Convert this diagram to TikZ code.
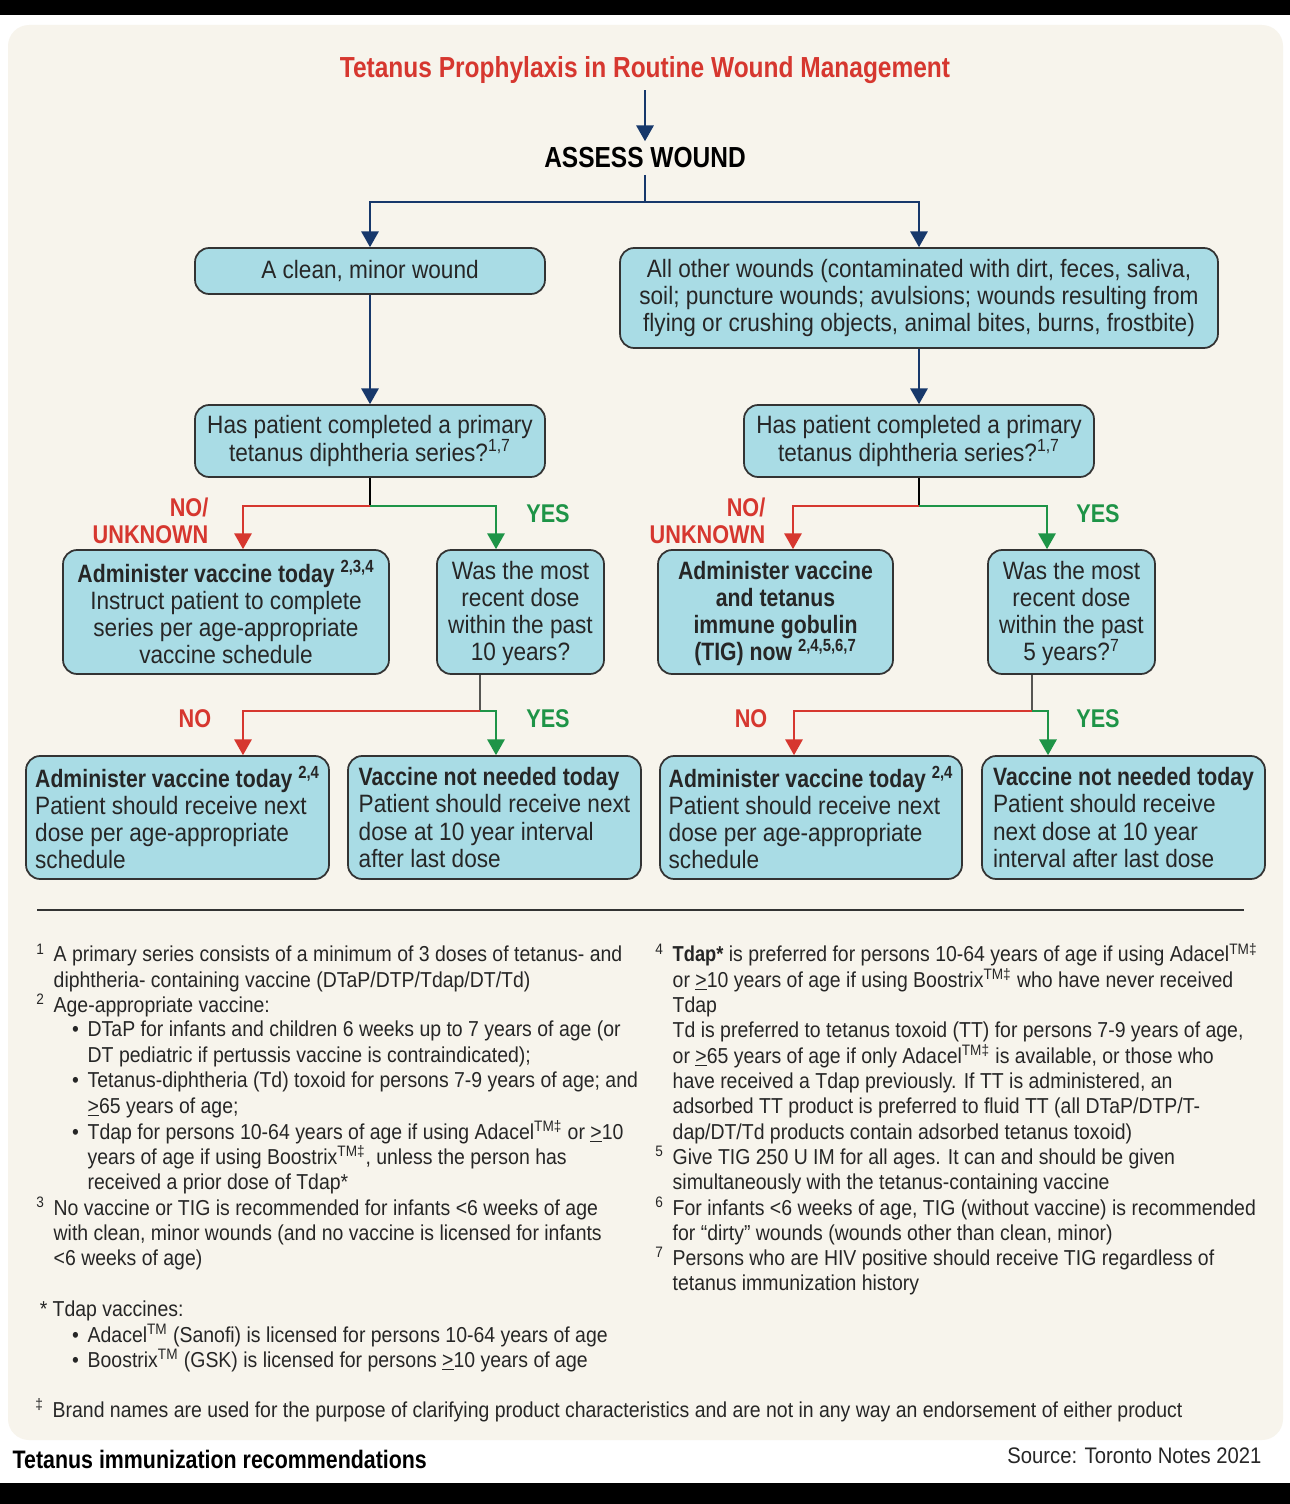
\documentclass[tikz,border=0pt]{standalone}
\usepackage{fontspec}
\setmainfont{Liberation Sans}[UprightFeatures={FakeStretch=0.9},BoldFeatures={FakeStretch=0.845}]
\usetikzlibrary{arrows,arrows.meta}

\definecolor{cream}{HTML}{F7F4EC}
\definecolor{boxblue}{HTML}{A9DCE5}
\definecolor{boxline}{HTML}{333333}
\definecolor{linknavy}{HTML}{17386B}
\definecolor{nored}{HTML}{D6372F}
\definecolor{yesgreen}{HTML}{1E9447}
\definecolor{inkgray}{HTML}{262626}

\newcommand\boxfont{\fontsize{14.3}{15.4}\selectfont}
\newcommand\notefont{\fontsize{12.3}{14.4}\selectfont}
\newcommand\labfont{\fontsize{14.6}{15}\selectfont\bfseries}
\newcommand\fnm[1]{\textsuperscript{#1}}
\newcommand\uge{\underline{>}}
\newcommand\topfix{\vphantom{\fnm{1}}}

\begin{document}
\begin{tikzpicture}[x=0.02cm,y=-0.02cm,->,>={Triangle[width=10pt,length=9pt]},line width=0.8pt,
  box node/.style={rectangle,rounded corners=8pt,draw=boxline,line width=1pt,fill=boxblue,
    inner sep=0pt,align=center,font=\boxfont,text=inkgray},
  end node/.style={box node,align=left}]

  \tikzstyle{notes} = [anchor=base west,align=left,inner sep=0pt,font=\notefont,text=inkgray]
  \tikzstyle{nolab} = [font=\labfont,text=nored,align=right,inner sep=0pt]
  \tikzstyle{yeslab} = [font=\labfont,text=yesgreen,inner sep=0pt]

  % page
  \useasboundingbox (0,0) rectangle (1290,1504);
  \fill[black] (0,0) rectangle (1290,15);
  \fill[white] (0,15) rectangle (1290,1483);
  \fill[black] (0,1483) rectangle (1290,1504);
  \fill[cream,rounded corners=12pt] (8,25) rectangle (1283,1440);

  % flowchart
  \node[font=\fontsize{16.5}{18}\selectfont\bfseries,text=nored] (title) at (645,70)
    {Tetanus Prophylaxis in Routine Wound Management};
  \node[font=\fontsize{16.5}{18}\selectfont\bfseries,text=black] (assess) at (645,158) {ASSESS WOUND};
  \coordinate (split) at (645,202);

  \node[box node,minimum width=7cm,minimum height=0.92cm] (clean) at (370,271) {A clean, minor wound};
  \node[box node,minimum width=11.96cm,minimum height=2cm] (dirty) at (919,298)
    {All other wounds (contaminated with dirt, feces, saliva,\\
     soil; puncture wounds; avulsions; wounds resulting from\\
     flying or crushing objects, animal bites, burns, frostbite)};

  \node[box node,minimum width=7cm,minimum height=1.44cm] (q1) at (370,441)
    {Has patient completed a primary\\tetanus diphtheria series?\fnm{1,7}};
  \node[box node,minimum width=7cm,minimum height=1.44cm] (q2) at (919,441)
    {Has patient completed a primary\\tetanus diphtheria series?\fnm{1,7}};
  \coordinate (j1) at (370,506);
  \coordinate (j2) at (919,506);

  \node[box node,minimum width=6.52cm,minimum height=2.48cm] (adm1) at (226,612)
    {\textbf{Administer vaccine today \fnm{2,3,4}}\\Instruct patient to complete\\
     series per age-appropriate\\vaccine schedule};
  \node[box node,minimum width=3.34cm,minimum height=2.48cm] (ten) at (520.5,612)
    {\topfix Was the most\\recent dose\\within the past\\10 years?};
  \node[box node,minimum width=4.7cm,minimum height=2.48cm] (tig) at (775.5,612)
    {\topfix\textbf{Administer vaccine}\\\textbf{and tetanus}\\\textbf{immune gobulin}\\
     \textbf{(TIG) now \fnm{2,4,5,6,7}}};
  \node[box node,minimum width=3.34cm,minimum height=2.48cm] (five) at (1071.5,612)
    {\topfix Was the most\\recent dose\\within the past\\5 years?\fnm{7}};
  \coordinate (j3) at (480,711);
  \coordinate (j4) at (1032,711);

  \node[end node,minimum width=6.06cm,minimum height=2.46cm] (b1) at (177.5,817.5)
    {\textbf{Administer vaccine today \fnm{2,4}}\\Patient should receive next\\
     dose per age-appropriate\\schedule};
  \node[end node,minimum width=5.86cm,minimum height=2.46cm] (b2) at (494.5,817.5)
    {\textbf{Vaccine not needed today}\\Patient should receive next\\
     dose at 10 year interval\\after last dose};
  \node[end node,minimum width=6.04cm,minimum height=2.46cm] (b3) at (811,817.5)
    {\textbf{Administer vaccine today \fnm{2,4}}\\Patient should receive next\\
     dose per age-appropriate\\schedule};
  \node[end node,minimum width=5.66cm,minimum height=2.46cm] (b4) at (1123.5,817.5)
    {\textbf{Vaccine not needed today}\\Patient should receive\\
     next dose at 10 year\\interval after last dose};

  \draw[linknavy] (title) -- (assess);
  \draw[linknavy,-] (assess) -- (split);
  \draw[linknavy] (split) -| (clean);
  \draw[linknavy] (split) -| (dirty);
  \draw[linknavy] (clean) -- (q1);
  \draw[linknavy] (dirty) -- (q2);

  \draw[-,black] (q1) -- (j1);
  \draw[nored] (j1) -| ([xshift=0.34cm]adm1.north);
  \draw[yesgreen] (j1) -| ([xshift=-0.49cm]ten.north);
  \draw[-,black] (q2) -- (j2);
  \draw[nored] (j2) -| ([xshift=0.35cm]tig.north);
  \draw[yesgreen] (j2) -| ([xshift=-0.49cm]five.north);

  \draw[-,black] ([xshift=-0.81cm]ten.south) -- (j3);
  \draw[nored] (j3) -| ([xshift=1.31cm]b1.north);
  \draw[yesgreen] (j3) -| ([xshift=0.03cm]b2.north);
  \draw[-,black] ([xshift=-0.79cm]five.south) -- (j4);
  \draw[nored] (j4) -| ([xshift=-0.34cm]b3.north);
  \draw[yesgreen] (j4) -| ([xshift=-1.51cm]b4.north);

  \node[nolab,anchor=east] (nu1) at (209,521) {NO/\\UNKNOWN};
  \node[yeslab] (y1) at (548,514) {YES};
  \node[nolab,anchor=east] (nu2) at (766,521) {NO/\\UNKNOWN};
  \node[yeslab] (y2) at (1098,514) {YES};
  \node[nolab] (n3) at (195,719) {NO};
  \node[yeslab] (y3) at (548,719) {YES};
  \node[nolab] (n4) at (751,719) {NO};
  \node[yeslab] (y4) at (1098,719) {YES};

  \draw[-,line width=0.6pt,boxline] (37,910) -- (1244,910);

  % footnotes, left column (node base = baseline of last line)
  \node[notes] (fn1) at (53,987)
    {\llap{\fnm{1}\hspace{5pt}}A primary series consists of a minimum of 3 doses of tetanus- and\\
     diphtheria- containing vaccine (DTaP/DTP/Tdap/DT/Td)};
  \node[notes] (fn2) at (53,1012) {\llap{\fnm{2}\hspace{5pt}}Age-appropriate vaccine:};
  \node[notes] (fn2a) at (87,1062)
    {\llap{•\hspace{5pt}}DTaP for infants and children 6 weeks up to 7 years of age (or\\
     DT pediatric if pertussis vaccine is contraindicated);};
  \node[notes] (fn2b) at (87,1113)
    {\llap{•\hspace{5pt}}Tetanus-diphtheria (Td) toxoid for persons 7-9 years of age; and\\
     \uge65 years of age;};
  \node[notes] (fn2c) at (87,1189.6)
    {\llap{•\hspace{5pt}}Tdap for persons 10-64 years of age if using Adacel\fnm{TM‡} or \uge10\\
     years of age if using Boostrix\fnm{TM‡}, unless the person has\\
     received a prior dose of Tdap*};
  \node[notes] (fn3) at (53,1265.6)
    {\llap{\fnm{3}\hspace{5pt}}No vaccine or TIG is recommended for infants <6 weeks of age\\
     with clean, minor wounds (and no vaccine is licensed for infants\\
     <6 weeks of age)};
  \node[notes] (star) at (52,1316) {\llap{*\hspace{3pt}}Tdap vaccines:};
  \node[notes] (stara) at (87,1342)
    {\llap{•\hspace{5pt}}Adacel\fnm{TM} (Sanofi) is licensed for persons 10-64 years of age};
  \node[notes] (starb) at (87,1367)
    {\llap{•\hspace{5pt}}Boostrix\fnm{TM} (GSK) is licensed for persons \uge10 years of age};
  \node[notes] (dag) at (52,1417)
    {\llap{\fnm{‡}\hspace{5pt}}Brand names are used for the purpose of clarifying product characteristics and are not in any way an endorsement of either product};

  % footnotes, right column
  \node[notes] (fn4) at (672,1139)
    {\llap{\fnm{4}\hspace{5pt}}\textbf{Tdap*} is preferred for persons 10-64 years of age if using Adacel\fnm{TM‡}\\
     or \uge10 years of age if using Boostrix\fnm{TM‡} who have never received\\
     Tdap\\
     Td is preferred to tetanus toxoid (TT) for persons 7-9 years of age,\\
     or \uge65 years of age if only Adacel\fnm{TM‡} is available, or those who\\
     have received a Tdap previously. If TT is administered, an\\
     adsorbed TT product is preferred to fluid TT (all DTaP/DTP/T-\\
     dap/DT/Td products contain adsorbed tetanus toxoid)};
  \node[notes] (fn5) at (672,1189.3)
    {\llap{\fnm{5}\hspace{5pt}}Give TIG 250 U IM for all ages. It can and should be given\\
     simultaneously with the tetanus-containing vaccine};
  \node[notes] (fn6) at (672,1240.3)
    {\llap{\fnm{6}\hspace{5pt}}For infants <6 weeks of age, TIG (without vaccine) is recommended\\
     for ``dirty'' wounds (wounds other than clean, minor)};
  \node[notes] (fn7) at (672,1290.3)
    {\llap{\fnm{7}\hspace{5pt}}Persons who are HIV positive should receive TIG regardless of\\
     tetanus immunization history};

  % caption
  \node[anchor=base west,inner sep=0pt,font=\fontsize{14.4}{16}\selectfont\bfseries,text=black] (cap)
    at (12,1468) {Tetanus immunization recommendations};
  \node[anchor=base east,inner sep=0pt,font=\fontsize{12.8}{15}\selectfont,text=inkgray] (src)
    at (1262,1463) {Source: Toronto Notes 2021};
\end{tikzpicture}
\end{document}
